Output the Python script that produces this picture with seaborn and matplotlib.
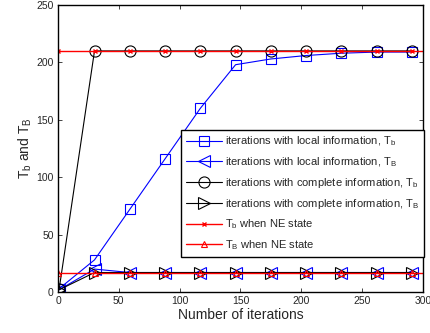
import numpy as np
import matplotlib
matplotlib.use("Agg")
import matplotlib.pyplot as plt
import seaborn as sns

# iteration index where markers sit
iters = [1, 30, 59, 88, 117, 146, 175, 204, 233, 262, 291]

# values
local_Tb = [3, 28, 72, 116, 160, 198, 203, 206, 208, 209, 209]
local_TB = [2, 20, 17, 17, 17, 17, 17, 17, 17, 17, 17]
complete_Tb = [3, 210, 210, 210, 210, 210, 210, 210, 210, 210, 210]
complete_TB = [2, 17, 17, 17, 17, 17, 17, 17, 17, 17, 17]
ne_x = [0, 30, 59, 88, 117, 146, 175, 204, 233, 262, 291]
ne_Tb = [210] * 11
ne_TB = [17] * 11

sns.set_style("ticks")
plt.rcParams['font.family'] = ['Liberation Sans', 'DejaVu Sans']
plt.rcParams['mathtext.fontset'] = 'custom'
plt.rcParams['mathtext.rm'] = 'Liberation Sans'
plt.rcParams['mathtext.it'] = 'Liberation Sans'

fig = plt.figure(figsize=(4.31, 3.33), dpi=100)
ax = fig.add_axes([0.1346, 0.123, 0.8466, 0.862])

lw = 0.8
sns.lineplot(x=iters, y=local_Tb, ax=ax, color='blue', lw=lw, marker='s', markersize=7,
             markerfacecolor='none', markeredgecolor='blue', markeredgewidth=0.8,
             label='iterations with local information, $T_b$')
sns.lineplot(x=iters, y=local_TB, ax=ax, color='blue', lw=lw, marker='<', markersize=8,
             markerfacecolor='none', markeredgecolor='blue', markeredgewidth=0.8,
             label='iterations with local information, $T_B$')
sns.lineplot(x=iters, y=complete_Tb, ax=ax, color='black', lw=lw, marker='o', markersize=8,
             markerfacecolor='none', markeredgecolor='black', markeredgewidth=0.8,
             label='iterations with complete information, $T_b$')
sns.lineplot(x=iters, y=complete_TB, ax=ax, color='black', lw=lw, marker='>', markersize=8,
             markerfacecolor='none', markeredgecolor='black', markeredgewidth=0.8,
             label='iterations with complete information, $T_B$')
sns.lineplot(x=ne_x, y=ne_Tb, ax=ax, color='red', lw=1.0, marker='x', markersize=3.5,
             markeredgecolor='red', markeredgewidth=1.0, label='$T_b$ when NE state')
sns.lineplot(x=ne_x, y=ne_TB, ax=ax, color='red', lw=1.0, marker='^', markersize=5,
             markerfacecolor='none', markeredgecolor='red', markeredgewidth=0.8,
             label='$T_B$ when NE state')
# NE lines continue to the right edge
ax.axhline(ne_Tb[-1], xmin=ne_x[-1] / 300, color='red', lw=1.0)
ax.axhline(ne_TB[-1], xmin=ne_x[-1] / 300, color='red', lw=1.0)

ax.set_xlim(0, 300)
ax.set_ylim(0, 250)
ax.set_xticks([0, 50, 100, 150, 200, 250, 300])
ax.set_yticks([0, 50, 100, 150, 200, 250])
ax.tick_params(direction='in', top=True, right=True, labelsize=7.5, length=3, width=0.6, pad=3)
for s in ax.spines.values():
    s.set_visible(True)
    s.set_linewidth(1.0)
    s.set_color('black')

ax.set_xlabel('Number of iterations', fontsize=10, labelpad=1)
ax.set_ylabel('$T_b$ and $T_B$', fontsize=10, labelpad=2)

leg = ax.legend(loc='lower right', bbox_to_anchor=(1.003, 0.122), fontsize=8, frameon=True,
                fancybox=False, edgecolor='black', framealpha=1, handlelength=3.2,
                borderpad=0.45, labelspacing=0.62, handletextpad=0.3, borderaxespad=0)
leg.get_frame().set_linewidth(1.0)

fig.savefig('out.png', dpi=100)
